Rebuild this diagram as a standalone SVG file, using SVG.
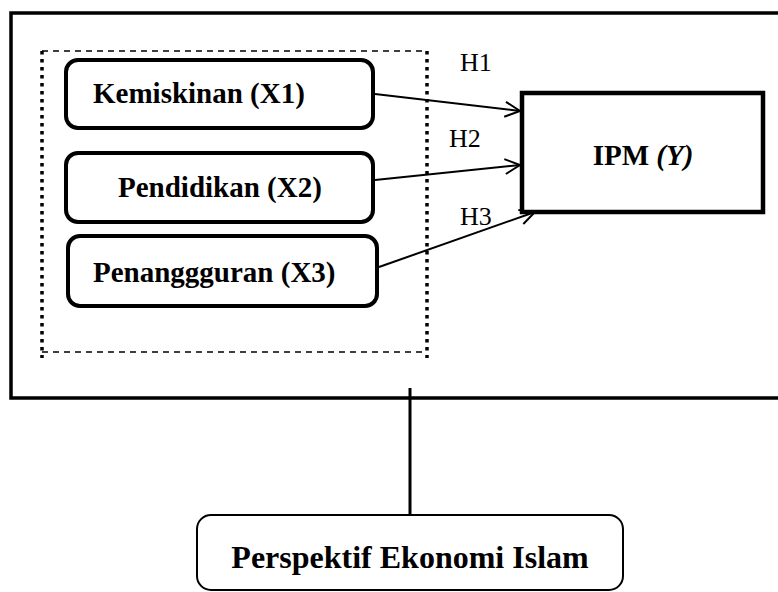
<svg xmlns="http://www.w3.org/2000/svg" width="778" height="592" viewBox="0 0 778 592">
<style>
.node{fill:#fff;stroke:#000;stroke-width:4}
.lbl{font-family:"Liberation Serif","Times New Roman",serif;font-weight:bold;font-size:29px;fill:#000}
.h{font-family:"Liberation Serif","Times New Roman",serif;font-size:26px;fill:#000}
.conn{stroke:#000;stroke-width:2;fill:none}
</style>
<defs>
<marker id="arr" markerUnits="userSpaceOnUse" markerWidth="20" markerHeight="20" viewBox="-16 -10 20 20" refX="0" refY="0" orient="auto">
<path d="M -15 -7.5 L 0 0 L -15 7.5" fill="none" stroke="#000" stroke-width="2"/>
</marker>
</defs>
<g id="frame">
<path d="M 778 13 H 11 V 398 H 778" fill="none" stroke="#000" stroke-width="3.5"/>
</g>
<g id="group-box">
<line x1="42" y1="51" x2="427" y2="51" stroke="#000" stroke-width="1.6" stroke-dasharray="6 5"/>
<line x1="42" y1="352" x2="427" y2="352" stroke="#000" stroke-width="1.6" stroke-dasharray="6 5"/>
<line x1="42" y1="51" x2="42" y2="358" stroke="#000" stroke-width="3.5" stroke-dasharray="3.5 4.5"/>
<line x1="427" y1="51" x2="427" y2="358" stroke="#000" stroke-width="3.5" stroke-dasharray="3.5 4.5"/>
</g>
<g id="connectors">
<line class="conn" x1="375" y1="94" x2="520" y2="111" marker-end="url(#arr)"/>
<line class="conn" x1="375" y1="180" x2="520" y2="165" marker-end="url(#arr)"/>
<line class="conn" x1="379" y1="267" x2="535" y2="212" marker-end="url(#arr)"/>
<line x1="410" y1="388" x2="410" y2="515" stroke="#000" stroke-width="3"/>
<text class="h" x="460" y="71">H1</text>
<text class="h" x="449" y="147">H2</text>
<text class="h" x="460" y="225">H3</text>
</g>
<g id="x1">
<rect class="node" x="66" y="60" width="307" height="68" rx="12"/>
<text class="lbl" x="93" y="103">Kemiskinan (X1)</text>
</g>
<g id="x2">
<rect class="node" x="66" y="153" width="307" height="69" rx="12"/>
<text class="lbl" x="118" y="197">Pendidikan (X2)</text>
</g>
<g id="x3">
<rect class="node" x="68" y="236" width="309" height="70" rx="12"/>
<text class="lbl" x="93" y="282">Penanggguran (X3)</text>
</g>
<g id="y">
<rect x="522" y="93" width="241" height="119" fill="#fff" stroke="#000" stroke-width="4.5"/>
<text class="lbl" x="643" y="165" text-anchor="middle">IPM <tspan font-style="italic">(Y)</tspan></text>
</g>
<g id="islam">
<rect x="197" y="515" width="426" height="75" rx="14" fill="#fff" stroke="#000" stroke-width="2"/>
<text class="lbl" x="410" y="568" text-anchor="middle" style="font-size:32px">Perspektif Ekonomi Islam</text>
</g>
</svg>
